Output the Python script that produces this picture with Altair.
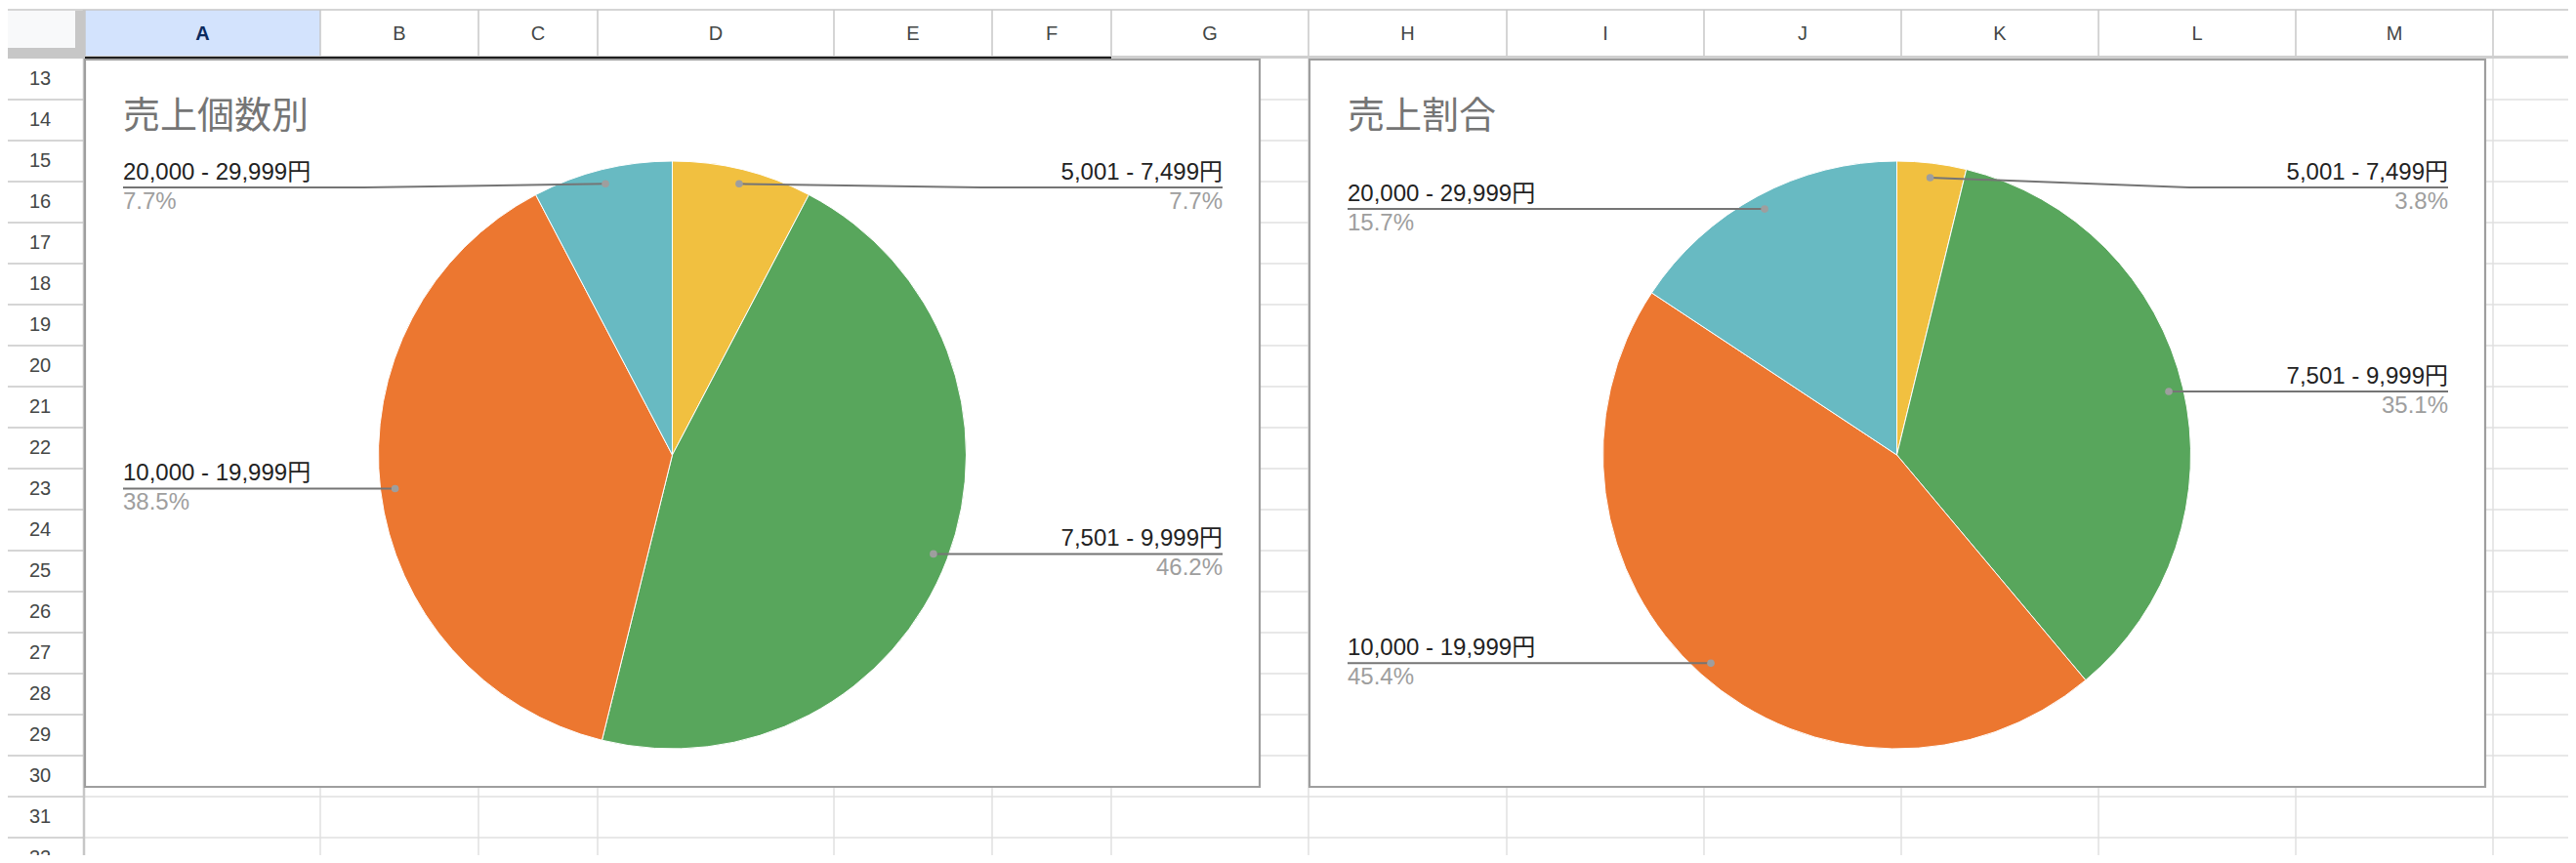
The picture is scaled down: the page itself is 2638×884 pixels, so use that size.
import math
import altair as alt
import pandas as pd

# ---------------- data ----------------
categories = ["5,001 - 7,499円", "7,501 - 9,999円", "10,000 - 19,999円", "20,000 - 29,999円"]
slice_colors = ["#F1C040", "#58A65C", "#EC7730", "#68BAC2"]
chart1_title = "売上個数別"
chart1_values = [1, 6, 5, 1]            # shown as 7.7%, 46.2%, 38.5%, 7.7%
chart2_title = "売上割合"
chart2_values = [3.8, 35.1, 45.4, 15.7]
column_letters = list("ABCDEFGHIJKLM")
row_numbers = list(range(13, 33))

# ---------------- layout (page pixels) ----------------
PAGE_W, PAGE_H, MARGIN = 2638, 884, 8
PLOT_W, PLOT_H = PAGE_W - 2 * MARGIN, PAGE_H - 2 * MARGIN
HEADER_TOP, HEADER_BOTTOM = 10, 57
GRID_TOP, ROW_H = 60, 42
ROW_COL_RIGHT = 86
col_edges = [87, 328, 490, 612, 854, 1016, 1138, 1340, 1543, 1745, 1947, 2149, 2351, 2553]
chart_boxes = [(87, 61, 1290, 806), (1341, 61, 2545, 806)]
PIE_DX, PIE_DY, PIE_R, DOT_R = 601.5, 405, 301, 286
TITLE_DX, TITLE_BASE = 39, 70
LABEL_IN_L, LABEL_IN_R, LABEL_MIN_DY = 39, 38, 131

LABEL_FONT = "Liberation Sans, Noto Sans CJK JP, sans-serif"
CJK_FONT = "Noto Sans CJK JP, sans-serif"

xs = alt.Scale(domain=[MARGIN, PAGE_W - MARGIN], nice=False, zero=False)
ys = alt.Scale(domain=[MARGIN, PAGE_H - MARGIN], nice=False, zero=False, reverse=True)


def X(f):
    return alt.X(f, type="quantitative", scale=xs, axis=None)


def Y(f):
    return alt.Y(f, type="quantitative", scale=ys, axis=None)


def rules(df, color, width):
    return alt.Chart(df).mark_rule(color=color, strokeWidth=width).encode(
        x=X("x"), x2=alt.X2("x2"), y=Y("y"), y2=alt.Y2("y2"))


def rects(df, fill, **kw):
    return alt.Chart(df).mark_rect(fill=fill, **kw).encode(
        x=X("x"), x2=alt.X2("x2"), y=Y("y"), y2=alt.Y2("y2"))


layers = []

# ---- cell grid ----
row_lines = [GRID_TOP + ROW_H * k for k in range(1, len(row_numbers) + 1)]
grid_h = pd.DataFrame({"x": ROW_COL_RIGHT, "x2": PAGE_W, "y": row_lines, "y2": row_lines})
grid_v = pd.DataFrame({"x": col_edges[1:], "x2": col_edges[1:], "y": GRID_TOP, "y2": PAGE_H})
layers.append(rules(grid_h, "#e1e1e1", 1.5))
layers.append(rules(grid_v, "#e1e1e1", 1.5))

# ---- row header column ----
rowsep = pd.DataFrame({"x": 0, "x2": ROW_COL_RIGHT, "y": row_lines, "y2": row_lines})
layers.append(rules(rowsep, "#c7c7c7", 1.5))
layers.append(rules(pd.DataFrame({"x": [ROW_COL_RIGHT], "x2": [ROW_COL_RIGHT], "y": [HEADER_TOP], "y2": [PAGE_H]}),
                    "#c7c7c7", 2.5))
row_df = pd.DataFrame({"label": [str(r) for r in row_numbers],
                       "x": ROW_COL_RIGHT / 2 - 2,
                       "y": [GRID_TOP + ROW_H * i + ROW_H / 2 for i in range(len(row_numbers))]})
layers.append(alt.Chart(row_df).mark_text(font=LABEL_FONT, fontSize=20, color="#444746",
                                          align="center", baseline="middle").encode(
    x=X("x"), y=Y("y"), text="label:N"))

# ---- column header row ----
layers.append(rects(pd.DataFrame({"x": [col_edges[0]], "x2": [col_edges[1]],
                                  "y": [HEADER_TOP], "y2": [HEADER_BOTTOM]}), "#d3e3fd"))
layers.append(rules(pd.DataFrame({"x": [0], "x2": [PAGE_W], "y": [HEADER_TOP], "y2": [HEADER_TOP]}),
                    "#c7c7c7", 1.5))
layers.append(rules(pd.DataFrame({"x": col_edges, "x2": col_edges, "y": HEADER_TOP, "y2": HEADER_BOTTOM}),
                    "#c7c7c7", 1.5))
layers.append(rects(pd.DataFrame({"x": [0], "x2": [PAGE_W], "y": [HEADER_BOTTOM], "y2": [GRID_TOP]}), "#cfcfcf"))
# frozen corner
layers.append(rects(pd.DataFrame({"x": [0], "x2": [77], "y": [HEADER_TOP + 1], "y2": [49]}), "#f8f9fa"))
layers.append(rects(pd.DataFrame({"x": [77, 0], "x2": [col_edges[0], col_edges[0]],
                                  "y": [HEADER_TOP + 1, 49], "y2": [GRID_TOP, GRID_TOP]}), "#c7c7c7"))
# selection line under A-F
layers.append(rects(pd.DataFrame({"x": [col_edges[0]], "x2": [col_edges[6]], "y": [58], "y2": [61.5]}), "#1f1f1f"))

col_df = pd.DataFrame({"label": column_letters,
                       "x": [(col_edges[i] + col_edges[i + 1]) / 2 for i in range(len(column_letters))],
                       "y": (HEADER_TOP + HEADER_BOTTOM) / 2 + 1})
layers.append(alt.Chart(col_df[col_df.label != "A"]).mark_text(
    font=LABEL_FONT, fontSize=20, color="#444746", align="center", baseline="middle").encode(
    x=X("x"), y=Y("y"), text="label:N"))
layers.append(alt.Chart(col_df[col_df.label == "A"]).mark_text(
    font=LABEL_FONT, fontSize=20, fontWeight="bold", color="#0b2a5e", align="center", baseline="middle").encode(
    x=X("x"), y=Y("y"), text="label:N"))

# ---- chart frames ----
frames = pd.DataFrame({"x": [b[0] for b in chart_boxes], "x2": [b[2] for b in chart_boxes],
                       "y": [b[1] for b in chart_boxes], "y2": [b[3] for b in chart_boxes]})
layers.append(rects(frames, "white", stroke="#9e9e9e", strokeWidth=2.2))

# ---- pies ----
color_scale = alt.Scale(domain=categories, range=slice_colors)


def pie_layers(title, values, box):
    x0, y0, x1, y1 = box
    cx, cy = x0 + PIE_DX, y0 + PIE_DY
    out = []
    out.append(alt.Chart(pd.DataFrame({"t": [title], "x": [x0 + TITLE_DX], "y": [y0 + TITLE_BASE]}))
               .mark_text(font=CJK_FONT, fontSize=38, color="#757575", align="left", baseline="alphabetic")
               .encode(x=X("x"), y=Y("y"), text="t:N"))
    df = pd.DataFrame({"cat": categories, "value": values, "idx": range(len(values))})
    out.append(alt.Chart(df).mark_arc(radius=PIE_R, stroke="white", strokeWidth=1).encode(
        theta=alt.Theta("value:Q", stack=True),
        color=alt.Color("cat:N", scale=color_scale, legend=None),
        order=alt.Order("idx:Q"),
        x=alt.X(datum=cx, type="quantitative", scale=xs, axis=None),
        y=alt.Y(datum=cy, type="quantitative", scale=ys, axis=None)))

    total = float(sum(values))
    cum = 0.0
    labels, pts, dots = [], [], []
    for i, (cat, v) in enumerate(zip(categories, values)):
        frac = v / total
        mid = (cum + frac / 2) * 2 * math.pi
        cum += frac
        dx_, dy_ = cx + DOT_R * math.sin(mid), cy - DOT_R * math.cos(mid)
        right = mid < math.pi
        edge = x1 - LABEL_IN_R if right else x0 + LABEL_IN_L
        ly = max(dy_, y0 + LABEL_MIN_DY)
        knee = (edge + dx_) / 2
        key = f"{title}-{i}"
        pts += [{"k": key, "o": 0, "x": edge, "y": ly},
                {"k": key, "o": 1, "x": knee, "y": ly},
                {"k": key, "o": 2, "x": dx_, "y": dy_}]
        dots.append({"x": dx_, "y": dy_})
        labels.append({"name": cat, "pct": f"{frac * 100:.1f}%", "x": edge,
                       "yn": ly - 8, "yp": ly + 22, "side": "R" if right else "L"})
    out.append(alt.Chart(pd.DataFrame(pts)).mark_line(color="#757575", strokeWidth=2).encode(
        x=X("x"), y=Y("y"), detail="k:N", order="o:Q"))
    out.append(alt.Chart(pd.DataFrame(dots)).mark_circle(color="#9e9e9e", opacity=1, size=58).encode(
        x=X("x"), y=Y("y")))
    ldf = pd.DataFrame(labels)
    for side, align in (("L", "left"), ("R", "right")):
        sub = ldf[ldf.side == side]
        out.append(alt.Chart(sub).mark_text(font=LABEL_FONT, fontSize=24, color="#222222",
                                            align=align, baseline="alphabetic").encode(
            x=X("x"), y=Y("yn"), text="name:N"))
        out.append(alt.Chart(sub).mark_text(font=LABEL_FONT, fontSize=24, color="#9e9e9e",
                                            align=align, baseline="alphabetic").encode(
            x=X("x"), y=Y("yp"), text="pct:N"))
    return out


layers += pie_layers(chart1_title, chart1_values, chart_boxes[0])
layers += pie_layers(chart2_title, chart2_values, chart_boxes[1])

chart = (alt.layer(*layers)
         .resolve_scale(theta="independent")
         .properties(width=PLOT_W, height=PLOT_H, padding=0,
                     autosize=alt.AutoSizeParams(type="none"), background="white")
         .configure_view(stroke=None))

chart.save("out.html", embed_options={"renderer": "svg", "actions": False})
